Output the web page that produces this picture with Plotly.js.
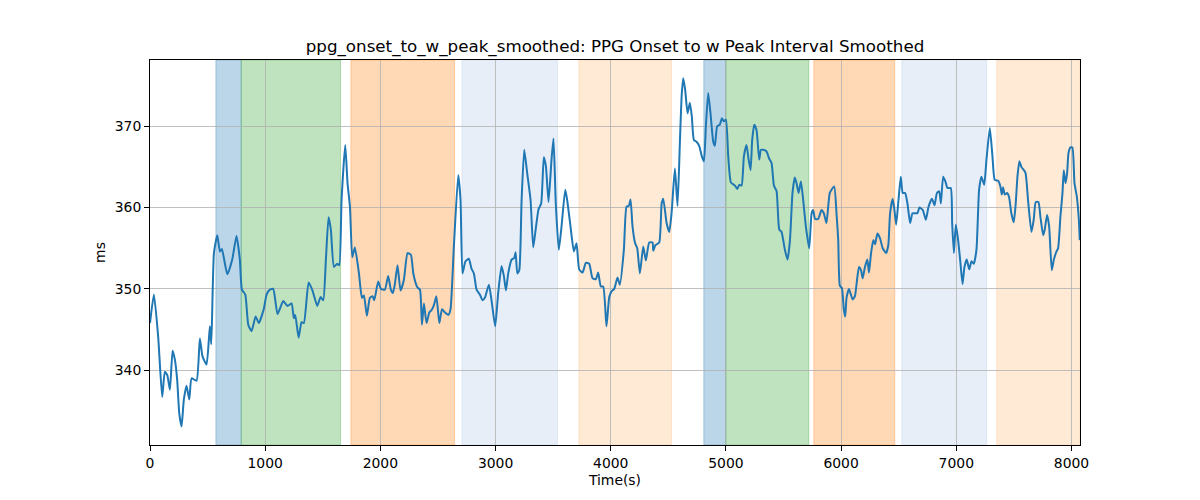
<!DOCTYPE html>
<html>
<head>
<meta charset="utf-8">
<script src="https://cdn.plot.ly/plotly-3.0.1.min.js"></script>
<style>html,body{margin:0;padding:0;background:#fff;}#chart{width:1200px;height:500px;}</style>
</head>
<body>
<div id="chart"></div>
<script>
const chartTitle = "ppg_onset_to_w_peak_smoothed: PPG Onset to w Peak Interval Smoothed";
const xLabel = "Time(s)";
const yLabel = "ms";

const timeValues = [
0,34,71,106,129,150,173,196,216,236,254,274,294,317,341,361,404,433,456,491,520,532,555,584,607,624,671,714,751,780,798,827,853,882,917,945,989,1012,1041,1070,1107,1157,1194,1229,1249,1261,1290,1316,1336,1377,
1411,1452,1481,1504,1527,1550,1570,1597,1626,1643,1663,1695,1715,1736,1756,1779,1814,1840,1857,1883,1909,1932,1947,1981,2005,2039,2068,2091,2109,2126,2149,2175,2204,2236,2265,2286,2321,2344,2361,2378,2401,2425,2445,2465,2486,2512,2535,2561,2590,2609,2638,2676,2696,
2713,2739,2768,2791,2812,2835,2864,2887,2907,2942,2965,2997,3023,3052,3072,3090,3110,3139,3162,3174,3189,3206,3226,3249,3275,3304,3327,3350,3373,3396,3419,3437,3460,3486,3503,3523,3549,3573,3605,3622,3654,3680,3703,3726,3755,3784,3813,3842,3871,3891,3914,3935,3963,3987,4007,4030,4059,4079,
4114,4137,4157,4172,4189,4212,4230,4253,4282,4305,4334,4363,4369,4389,4421,4442,4456,4485,4508,4528,4557,4580,4600,4615,4629,4646,4667,4687,4704,4722,4745,4768,4791,4809,4826,4846,4866,4890,4904,4924,4947,4965,4982,5000,5020,5043,5078,5098,5116,5136,5156,5179,5197,5214,5228,5246,5266,5289,5304,5324,5353,5373,5396,5417,5440,5463,5483,5512,5535,5556,
5578,5598,5613,5631,5651,5671,5694,5723,5744,5757,5774,5801,5830,5850,5873,5902,5940,5960,5975,5989,6007,6024,6036,6047,6068,6085,6100,6120,6135,6155,6173,6187,6207,6228,6242,6260,6280,6295,6315,6338,6361,6390,6410,6425,6448,6463,6478,6498,6518,6535,6556,6576,6599,6620,6643,6663,6680,6709,6736,6759,6788,6811,6832,6852,6866,
6886,6906,6924,6952,6964,6979,6996,7016,7036,7054,7071,7091,7112,7132,7152,7175,7198,7218,7242,7262,7291,7314,7334,7363,7383,7395,7406,7421,7441,7458,7478,7499,7516,7531,7548,7565,7600,7623,7652,7672,7690,7713,7730,7754,7768,7788,7806,7829,7847,7870,7884,7904,7922,7933,7948,7962,7974,7991,8008,8026,8046,8064,8072
];

const intervalValues = [
345.8,349.3,344.1,336.7,339.8,339.4,337.6,342.4,341.3,338.8,334.7,333.1,336.4,338.1,336.4,339.0,338.7,343.9,341.7,340.7,345.4,343.2,354.4,356.6,354.6,354.9,351.8,353.6,356.5,353.6,349.9,349.3,345.6,344.8,346.6,345.8,347.6,349.3,349.9,350.0,346.9,348.5,347.9,348.2,346.4,346.8,344.0,345.9,345.8,350.8,
349.8,347.9,349.0,348.6,353.6,358.8,357.3,352.7,353.1,352.9,360.9,367.7,363.0,360.1,353.9,355.1,351.9,348.9,349.2,346.7,348.9,349.1,348.6,350.9,350.0,349.9,351.6,349.9,349.5,350.6,352.9,349.8,351.1,354.4,354.2,351.9,350.2,349.9,345.6,348.2,345.8,347.1,347.4,348.0,349.1,345.8,347.5,347.1,346.8,347.5,355.2,364.0,360.9,
351.9,353.4,353.7,352.5,351.9,349.9,349.3,348.6,348.9,350.5,348.6,345.4,349.5,352.8,351.6,349.8,351.9,353.6,353.8,354.5,351.9,352.3,360.9,367.1,364.2,360.9,355.1,357.5,359.8,360.5,366.2,365.1,360.7,365.9,368.5,360.5,354.8,357.7,362.2,360.9,357.3,354.6,355.6,352.4,352.0,353.2,353.1,351.3,351.2,352.0,350.3,350.3,345.4,349.0,349.7,350.0,351.4,350.5,
354.8,360.1,360.2,361.0,357.7,355.6,355.0,351.9,355.2,353.5,355.7,355.7,354.7,355.4,355.7,360.5,361.1,358.1,357.0,359.3,364.8,360.2,367.9,373.6,375.9,374.5,371.6,372.9,371.2,368.3,368.1,367.6,366.3,365.7,370.0,374.1,371.6,368.1,367.6,370.0,370.2,371.0,370.6,370.8,366.3,363.1,362.7,362.3,362.8,362.7,366.3,367.7,365.9,364.6,368.3,370.2,369.5,365.9,367.1,367.1,366.9,366.1,365.5,362.7,362.0,357.3,357.0,354.8,353.6,356.0,
361.8,363.7,363.0,361.8,363.2,360.9,357.7,355.0,359.3,359.7,358.6,358.6,359.7,359.3,358.1,361.8,362.6,359.3,356.0,350.4,350.1,347.4,346.6,348.9,350.0,349.3,348.7,349.1,350.7,352.7,352.3,351.3,352.7,353.6,352.0,354.4,356.0,355.5,356.8,356.2,355.0,354.4,355.4,359.3,361.1,359.7,357.9,360.9,363.8,361.8,361.8,360.5,358.1,359.3,359.3,359.3,360.0,359.7,358.5,360.1,361.1,360.3,361.8,362.0,360.5,
363.8,363.2,362.4,362.4,358.1,354.4,357.9,356.0,353.2,350.6,352.7,353.6,352.4,353.4,353.1,354.8,362.2,363.8,362.8,365.9,369.8,366.3,363.4,363.3,362.6,361.6,362.5,361.6,361.8,361.3,359.3,358.2,360.5,363.8,365.7,365.0,364.3,360.9,357.0,358.5,360.7,360.7,358.9,356.6,357.3,359.1,357.7,352.3,353.6,354.6,355.0,358.9,361.8,364.6,363.0,364.2,366.7,367.4,367.4,363.0,361.4,358.5,356.0
];

const spanStart = [572, 792, 1744, 2708, 3723, 4808, 4999, 5763, 6527, 7351];
const spanEnd   = [792, 1654, 2644, 3538, 4528, 4999, 5720, 6466, 7264, 8074];
const spanColor = ["#1f77b4", "#2ca02c", "#ff7f0e", "#aec7e8", "#ffbb78", "#1f77b4", "#2ca02c", "#ff7f0e", "#aec7e8", "#ffbb78"];

const xTicks = [0,1000,2000,3000,4000,5000,6000,7000,8000];
const yTicks = [340,350,360,370];

function rgba(hex, a) {
  const r = parseInt(hex.slice(1,3),16), g = parseInt(hex.slice(3,5),16), b = parseInt(hex.slice(5,7),16);
  return `rgba(${r},${g},${b},${a})`;
}

const shapes = spanStart.map((s, i) => ({
  type: 'rect', xref: 'x', yref: 'paper', x0: s, x1: spanEnd[i], y0: 0, y1: 1,
  fillcolor: rgba(spanColor[i], 0.3), line: {color: rgba(spanColor[i], 0.3), width: 1}, layer: 'below'
}));

const font = {family: 'DejaVu Sans, sans-serif', color: '#000'};

const trace = {
  x: timeValues, y: intervalValues, type: 'scatter', mode: 'lines',
  line: {color: '#1f77b4', width: 2, shape: 'spline', smoothing: 0.5}, hoverinfo: 'skip', showlegend: false
};

const axisCommon = {
  showgrid: true, gridcolor: '#b0b0b0', gridwidth: 0.8,
  zeroline: false, showline: true, linecolor: '#000', linewidth: 1, mirror: true,
  ticks: 'outside', ticklen: 5, tickwidth: 1, tickcolor: '#000',
  tickfont: Object.assign({size: 13.9}, font)
};

const layout = {
  width: 1200, height: 500,
  margin: {l: 150, r: 120, t: 60, b: 55, pad: 0},
  paper_bgcolor: '#fff', plot_bgcolor: 'rgba(0,0,0,0)',
  title: {text: chartTitle, font: Object.assign({size: 16.7}, font), x: 0.5125, xanchor: 'center', y: 0.908, yref: 'container', yanchor: 'middle'},
  xaxis: Object.assign({}, axisCommon, {
    range: [0, 8074], tickvals: xTicks, ticktext: xTicks.map(String),
    title: {text: xLabel, font: Object.assign({size: 13.9}, font), standoff: 5}
  }),
  yaxis: Object.assign({}, axisCommon, {
    range: [330.8, 378.15], tickvals: yTicks, ticktext: yTicks.map(String),
    title: {text: yLabel, font: Object.assign({size: 13.9}, font), standoff: 5}
  }),
  shapes: shapes
};

Plotly.newPlot('chart', [trace], layout, {displayModeBar: false, staticPlot: true});
</script>
</body>
</html>
